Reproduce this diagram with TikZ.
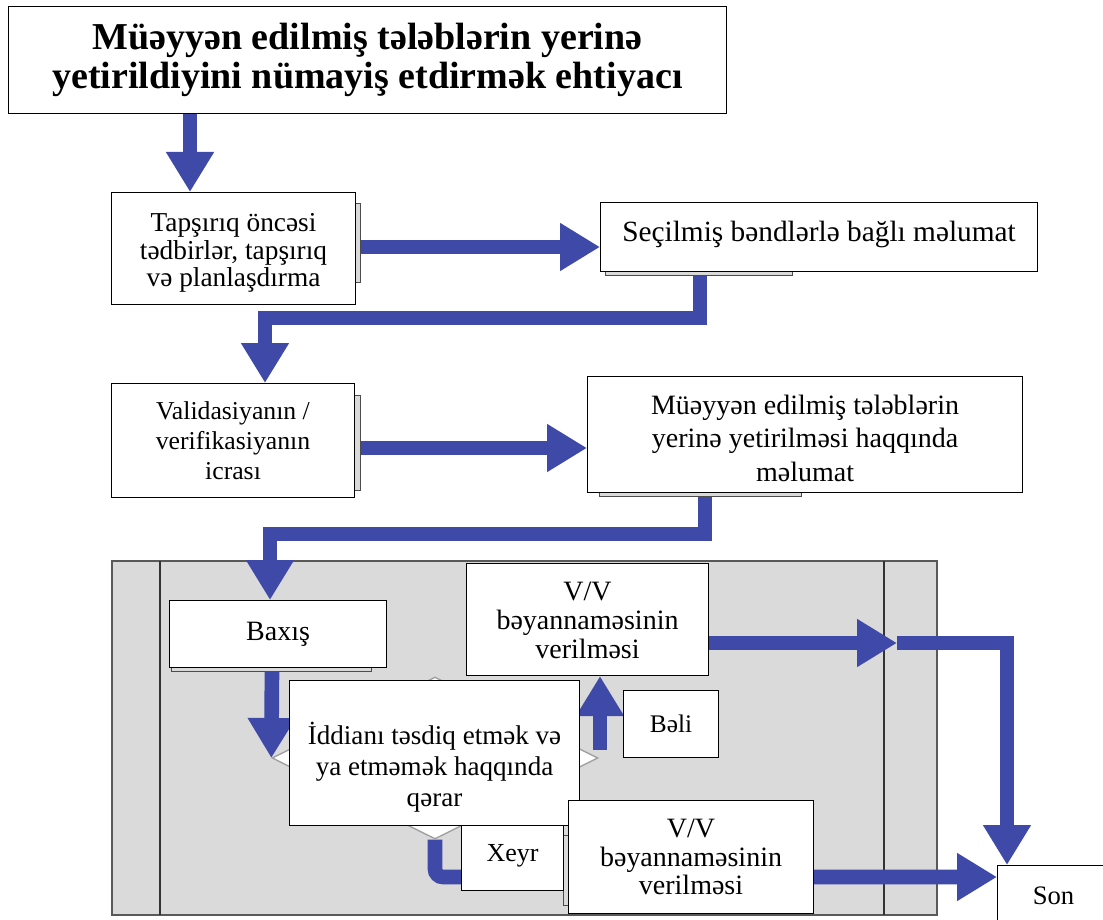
\documentclass[tikz,border=0pt]{standalone}
\usepackage{fontspec}
\setmainfont{Liberation Serif}
\usetikzlibrary{arrows.meta,shapes.geometric}
\definecolor{arrblue}{RGB}{62,73,168}
\definecolor{panelgray}{RGB}{218,218,218}
\pgfdeclarelayer{panel}
\pgfdeclarelayer{bg}
\pgfsetlayers{panel,bg,main}
\newcommand{\shifttext}[2]{\raisebox{#1}[\height][\depth]{\begin{tabular}{@{}c@{}}#2\end{tabular}}}
\tikzset{
  bx/.style={draw=black, fill=white, line width=0.8pt, anchor=north west, align=center, inner sep=0pt, font=\fontsize{21}{22}\selectfont},
  shadowbox/.style={draw=gray!60!black, fill=gray!30, line width=0.5pt},
  arr/.style={draw=arrblue, line width=11pt, -{Triangle[width=34pt,length=30pt]}},
  dia/.style={diamond, draw=gray!75, fill=white, line width=1pt, inner sep=0pt}
}
\begin{document}
\begin{tikzpicture}[x=0.75pt,y=-0.75pt]
\useasboundingbox (0,0) rectangle (1103,920);
\clip (0,0) rectangle (1103,920);

% panel
\begin{pgfonlayer}{panel}
\fill[white] (0,0) rectangle (1103,920);
\draw[fill=panelgray, draw=gray!70!black, line width=0.8pt] (112,561) rectangle (937,915);
\draw[gray!40!black, line width=0.8pt] (160,561) -- (160,915);
\draw[gray!40!black, line width=0.8pt] (884,561) -- (884,915);
\end{pgfonlayer}

% shadows
\draw[shadowbox] (350,203) rectangle (360,282);
\draw[shadowbox] (350,395) rectangle (360,490);
\draw[shadowbox] (605,265) rectangle (792,275);
\draw[shadowbox] (599,487) rectangle (801,496);
\draw[shadowbox] (171,662) rectangle (371,671);
\draw[shadowbox] (563,835) rectangle (570,905);

% boxes
\node[bx, minimum width=718*0.75pt, minimum height=107*0.75pt, font=\bfseries\fontsize{28.5}{29}\selectfont] (title) at (8,6)
  {Müəyyən edilmiş tələblərin yerinə\\yetirildiyini nümayiş etdirmək ehtiyacı};
\node[bx, minimum width=244*0.75pt, minimum height=112*0.75pt, font=\fontsize{20.5}{20.5}\selectfont] (tap) at (111,192)
  {\shifttext{-3.75pt}{Tapşırıq öncəsi\\tədbirlər, tapşırıq\\və planlaşdırma}};
\node[bx, minimum width=437*0.75pt, minimum height=69*0.75pt, font=\fontsize{22}{24}\selectfont] (sec) at (600,202)
  {\shifttext{1.5pt}{Seçilmiş bəndlərlə bağlı məlumat}};
\node[bx, minimum width=243*0.75pt, minimum height=114*0.75pt, font=\fontsize{19.3}{22.5}\selectfont] (val) at (111,383)
  {Validasiyanın /\\verifikasiyanın\\icrası};
\node[bx, minimum width=435*0.75pt, minimum height=116*0.75pt, font=\fontsize{21}{25}\selectfont] (mue) at (587,376)
  {\shifttext{-5pt}{Müəyyən edilmiş tələblərin\\yerinə yetirilməsi haqqında\\məlumat}};
\node[bx, minimum width=217*0.75pt, minimum height=67*0.75pt] (baxis) at (169,600) {Baxış};
\node[bx, minimum width=242*0.75pt, minimum height=112*0.75pt] (vv1) at (466,563)
  {\shifttext{-3pt}{V/V\\bəyannaməsinin\\verilməsi}};
\node[dia, minimum width=326*0.75pt, minimum height=162*0.75pt] (dia) at (435,758) {};
\node[bx, minimum width=290*0.75pt, minimum height=145*0.75pt, font=\fontsize{20.3}{23}\selectfont] (dec) at (289,680)
  {\shifttext{-12pt}{İddianı təsdiq etmək və\\ya etməmək haqqında\\qərar}};
\node[bx, minimum width=95*0.75pt, minimum height=67*0.75pt, font=\fontsize{19}{22}\selectfont] (beli) at (623,690) {Bəli};
\node[bx, minimum width=102*0.75pt, minimum height=65*0.75pt, font=\fontsize{19.5}{22}\selectfont] (xeyr) at (461,825) {\shifttext{2pt}{Xeyr}};
\node[bx, minimum width=245*0.75pt, minimum height=113*0.75pt, font=\fontsize{21}{21.4}\selectfont] (vv2) at (568,800)
  {V/V\\bəyannaməsinin\\verilməsi};
\node[bx, minimum width=120*0.75pt, minimum height=60*0.75pt, font=\fontsize{20}{24}\selectfont] (son) at (997,865) {Son\hspace*{6pt}};

% connector coordinates
\coordinate (c1) at (190,0);
\coordinate (r2) at (0,247);
\coordinate (k3a) at (700,318);
\coordinate (k3b) at (265,318);
\coordinate (r4) at (0,448);
\coordinate (k5a) at (705,534);
\coordinate (k5b) at (270,534);
\coordinate (c6) at (272,0);
\coordinate (b0) at (600,750);
\coordinate (m8) at (897,643);
\coordinate (k8) at (1007,643);
\coordinate (x9) at (435,877);

\begin{pgfonlayer}{bg}
\draw[arr] (title.south -| c1) -- (tap.north -| c1);
\draw[arr] (tap.east |- r2) -- (sec.west |- r2);
\draw[arr] (sec.south -| k3a) -- (k3a) -- (k3b) -- (val.north -| k3b);
\draw[arr] (val.east |- r4) -- (mue.west |- r4);
\draw[arr] (mue.south -| k5a) -- (k5a) -- (k5b) -- (baxis.north -| k5b);
\draw[arr] (baxis.south -| c6) -- (dia.west);
\draw[arr] (b0) -- (vv1.south -| b0);
\draw[arr] (vv1.east |- m8) -- (m8);
\draw[arr] (m8) -- (k8) -- (son.north -| k8);
\draw[arr, rounded corners=6pt] (dia.south) -- (x9) -- (son.west |- x9);
\end{pgfonlayer}
\end{tikzpicture}
\end{document}
